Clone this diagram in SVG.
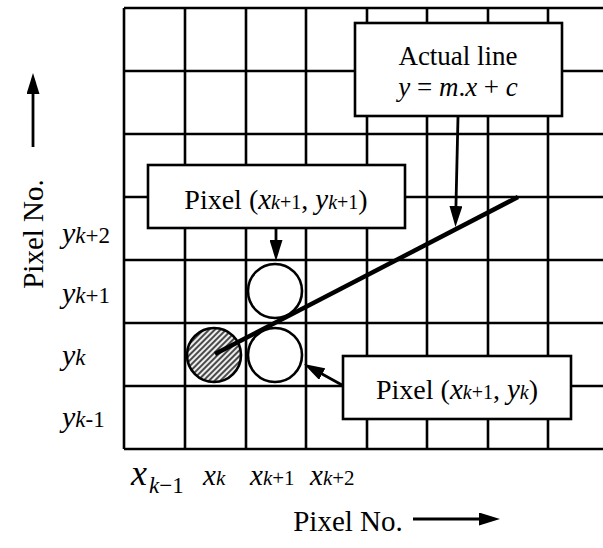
<svg xmlns="http://www.w3.org/2000/svg" width="603" height="548" viewBox="0 0 603 548">
<style>
.grid{stroke:#000;stroke-width:2.6;fill:none}
.box{fill:#fff;stroke:#000;stroke-width:2.6}
.t{font-family:"Liberation Serif","Times New Roman",serif;fill:#000}
.i{font-style:italic}
.conn{stroke:#000;stroke-width:2.8;fill:none}
.px{fill:#fff;stroke:#000;stroke-width:2.6}
</style>
<defs>
<marker id="ah" markerUnits="userSpaceOnUse" markerWidth="21" markerHeight="13" refX="11" refY="6.5" orient="auto">
<path d="M0,0 L21,6.5 L0,13 z" fill="#000"/>
</marker>
<pattern id="hatch" patternUnits="userSpaceOnUse" width="4" height="10" patternTransform="rotate(45)">
<rect width="4" height="10" fill="#eeeeee"/>
<rect width="2" height="10" fill="#4a4a4a"/>
</pattern>
</defs>
<g id="grid" class="grid">
<path d="M124,8V449M185,8V449M246,8V449M306,8V449M367,8V449M427,8V449M488,8V449M548,8V449"/>
<path d="M124,8H603M124,71H603M124,134H603M124,197H603M124,260H603M124,323H603M124,386H603M124,449H603"/>
</g>
<g id="pixel-k"><circle class="px" cx="214" cy="355" r="27" style="fill:url(#hatch)"/></g>
<g id="pixel-k1-k1"><circle class="px" cx="275" cy="291" r="27"/></g>
<g id="pixel-k1-k"><circle class="px" cx="275" cy="355" r="27"/></g>
<g id="actual-line-path"><line x1="215" y1="354" x2="518" y2="197" stroke="#000" stroke-width="4.5"/></g>
<g id="box-actual">
<rect class="box" x="355" y="23" width="207" height="93"/>
<text class="t" x="458" y="65" font-size="27" text-anchor="middle">Actual line</text>
<text class="t" x="458" y="96" font-size="27" text-anchor="middle"><tspan class="i">y</tspan> = <tspan class="i">m</tspan>.<tspan class="i">x</tspan> + <tspan class="i">c</tspan></text>
</g>
<g id="box-pixel-k1-k1">
<rect class="box" x="148" y="165" width="257" height="63"/>
<text class="t" x="276" y="209" font-size="28" text-anchor="middle">Pixel (<tspan class="i" font-size="29">x</tspan><tspan class="i" font-size="20">k</tspan><tspan font-size="20">+1</tspan>, <tspan class="i" font-size="29">y</tspan><tspan class="i" font-size="20">k</tspan><tspan font-size="20">+1</tspan>)</text>
</g>
<g id="box-pixel-k1-k">
<rect class="box" x="343" y="356" width="228" height="63"/>
<text class="t" x="457" y="399" font-size="28" text-anchor="middle">Pixel (<tspan class="i" font-size="29">x</tspan><tspan class="i" font-size="20">k</tspan><tspan font-size="20">+1</tspan>, <tspan class="i" font-size="29">y</tspan><tspan class="i" font-size="20">k</tspan>)</text>
</g>
<g id="connectors">
<line class="conn" x1="458" y1="117" x2="455.7" y2="217" marker-end="url(#ah)"/>
<line class="conn" x1="276" y1="229" x2="276" y2="251" marker-end="url(#ah)"/>
<line class="conn" x1="342" y1="385" x2="312.6" y2="368.8" marker-end="url(#ah)"/>
<line class="conn" x1="33" y1="147" x2="33" y2="83" marker-end="url(#ah)"/>
<line class="conn" x1="413" y1="519" x2="490" y2="519" marker-end="url(#ah)"/>
</g>
<g id="y-labels" class="t">
<text x="62" y="243"><tspan class="i" font-size="30">y</tspan><tspan class="i" font-size="23">k</tspan><tspan font-size="23">+2</tspan></text>
<text x="62" y="303"><tspan class="i" font-size="30">y</tspan><tspan class="i" font-size="23">k</tspan><tspan font-size="23">+1</tspan></text>
<text x="62" y="365"><tspan class="i" font-size="30">y</tspan><tspan class="i" font-size="23">k</tspan></text>
<text x="62" y="427"><tspan class="i" font-size="30">y</tspan><tspan class="i" font-size="23">k</tspan><tspan font-size="23">-1</tspan></text>
</g>
<g id="x-labels" class="t">
<text x="131" y="485"><tspan class="i" font-size="36">x</tspan><tspan class="i" font-size="23" dy="8" dx="2">k</tspan><tspan font-size="23">−1</tspan></text>
<text x="203" y="485"><tspan class="i" font-size="29">x</tspan><tspan class="i" font-size="21">k</tspan></text>
<text x="250" y="485"><tspan class="i" font-size="29">x</tspan><tspan class="i" font-size="21">k</tspan><tspan font-size="21">+1</tspan></text>
<text x="310" y="485"><tspan class="i" font-size="29">x</tspan><tspan class="i" font-size="21">k</tspan><tspan font-size="21">+2</tspan></text>
</g>
<g id="axis-labels" class="t">
<text x="348" y="531" font-size="29" text-anchor="middle">Pixel No.</text>
<text transform="translate(43,234) rotate(-90)" font-size="29" text-anchor="middle">Pixel No.</text>
</g>
</svg>
